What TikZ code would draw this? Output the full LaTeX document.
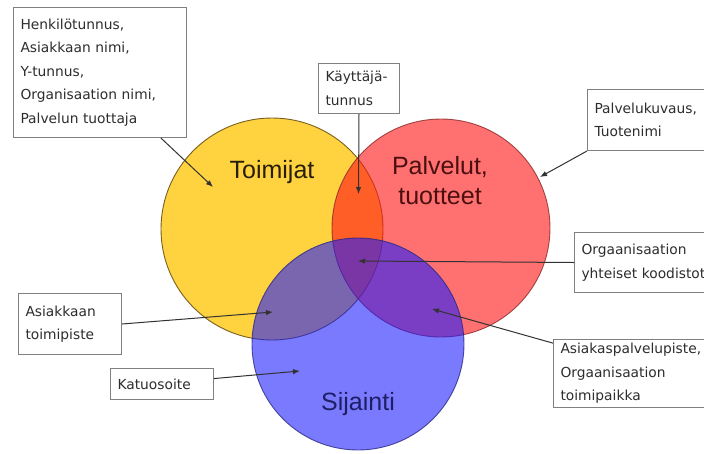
\documentclass[tikz,border=0pt]{standalone}
\usepackage{fontspec}
\setmainfont{Liberation Sans}
\newfontfamily\boxfont{DejaVu Sans}
\usetikzlibrary{calc,arrows.meta}
\definecolor{yel}{RGB}{255,210,64}
\definecolor{redc}{RGB}{255,25,25}
\definecolor{bluec}{RGB}{25,25,255}
\definecolor{yelline}{RGB}{120,95,30}
\definecolor{redline}{RGB}{140,40,40}
\definecolor{blueline}{RGB}{40,40,130}
\definecolor{boxgray}{RGB}{128,128,128}
\definecolor{txtgray}{RGB}{45,45,45}
\definecolor{linegray}{RGB}{50,50,50}
\tikzset{
  venn/.style={circle, inner sep=0pt, outer sep=0pt, line width=0.9pt},
  lbl/.style={draw=boxgray, fill=white, line width=1pt, anchor=north west,
    align=left, inner xsep=7pt, inner ysep=0pt,
    font=\boxfont\fontsize{13.8}{23.5}\selectfont, text=txtgray},
  conn/.style={draw=linegray, line width=1pt, -{Latex[length=7pt,width=5.5pt]}},
  big/.style={font=\fontsize{25}{30}\selectfont, align=center}
}
\begin{document}
\begin{tikzpicture}[x=1pt,y=-1pt]
\useasboundingbox (0,0) rectangle (704,453);
\clip (0,0) rectangle (704,453);
% circles
\node[venn, draw=yelline, fill=yel, minimum size=222pt] (toim) at (272,229) {};
\node[venn, draw=redline, draw opacity=0.8, fill=redc, fill opacity=0.62, minimum size=218pt] (palv) at (441,228) {};
\node[venn, draw=blueline, draw opacity=0.8, fill=bluec, fill opacity=0.58, minimum size=212pt] (sij) at (358,344) {};
% titles
\node[big, text={rgb,255:red,40;green,30;blue,5}] (ttoim) at (272,172) {Toimijat};
\node[big, text={rgb,255:red,75;green,15;blue,15}] (tpalv) at (440,181) {Palvelut,\\tuotteet};
\node[big, text={rgb,255:red,30;green,30;blue,100}] (tsij) at (358,404) {Sijainti};
% tip coordinates
\coordinate (p1) at (213,187);
\coordinate (p2) at (358.5,194);
\coordinate (p3) at (540,177);
\coordinate (p4) at (358,261);
\coordinate (p5) at (273,312);
\coordinate (p6) at (300,371);
\coordinate (p7) at (432,309);
% boxes
\node[lbl, minimum width=173pt, minimum height=130pt, text width=159pt] (b1) at (13,7)
  {Henkilötunnus,\\Asiakkaan nimi,\\Y-tunnus,\\Organisaation nimi,\\Palvelun tuottaja};
\node[lbl, minimum width=81pt, minimum height=50pt, text width=67pt, inner xsep=6pt] (b2) at (318,63)
  {Käyttäjä-\\tunnus};
\node[lbl, minimum width=140pt, minimum height=61pt, text width=126pt] (b3) at (587,89)
  {Palvelukuvaus,\\Tuotenimi};
\node[lbl, minimum width=160pt, minimum height=60pt, text width=146pt] (b4) at (574,232)
  {Orgaanisaation\\yhteiset koodistot};
\node[lbl, minimum width=103pt, minimum height=61pt, text width=89pt] (b5) at (18,293)
  {Asiakkaan\\toimipiste};
\node[lbl, minimum width=103pt, minimum height=31pt, text width=89pt] (b6) at (110,368)
  {Katuosoite};
\node[lbl, minimum width=165pt, minimum height=68pt, text width=151pt] (b7) at (553,339)
  {Asiakaspalvelupiste,\\Orgaanisaation\\toimipaikka};
% connectors
\draw[conn] ($(b1.south west)!0.85!(b1.south east)$) -- (p1);
\draw[conn] (b2.south) -- (p2);
\draw[conn] (b3.south west) -- (p3);
\draw[conn] (b4.west) -- (p4);
\draw[conn] (b5.east) -- (p5);
\draw[conn] ($(b6.north east)!0.33!(b6.south east)$) -- (p6);
\draw[conn] ($(b7.north west)!0.06!(b7.south west)$) -- (p7);
\end{tikzpicture}
\end{document}
